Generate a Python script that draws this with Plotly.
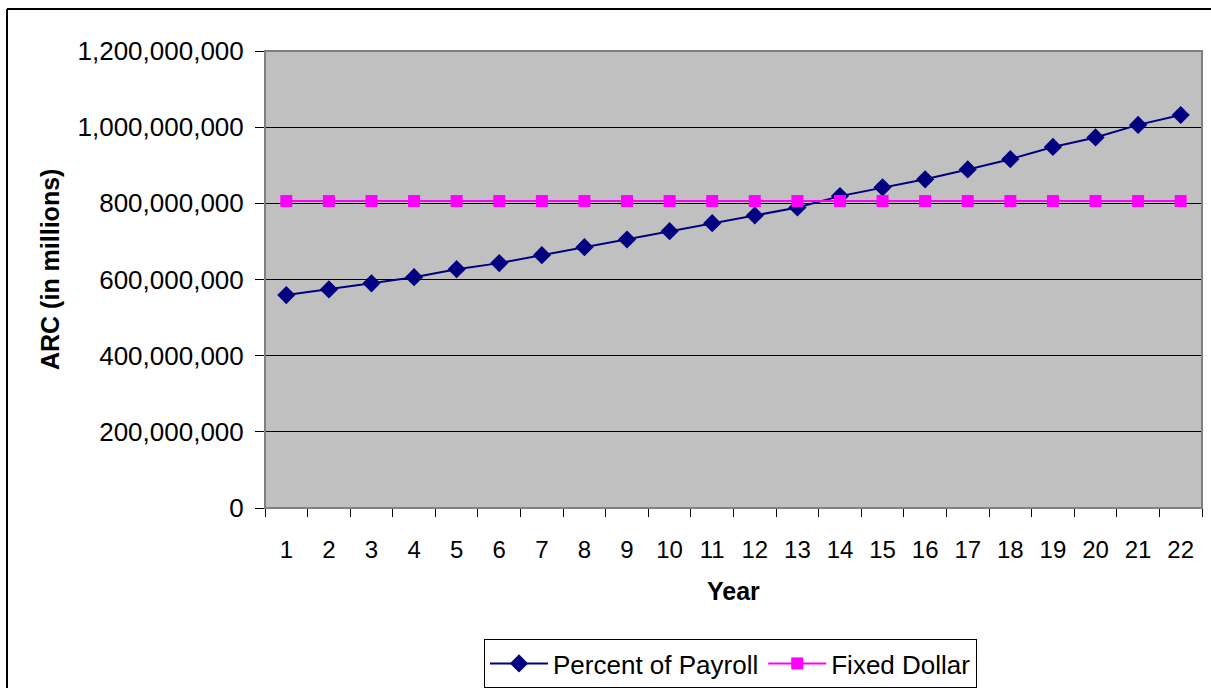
import plotly.graph_objects as go

years = [str(i) for i in range(1, 23)]
percent_of_payroll = [559e6, 574e6, 590e6, 606e6, 627e6, 643e6, 664e6, 685e6, 705e6, 727e6, 748e6,
                      768e6, 789e6, 819e6, 842e6, 863e6, 889e6, 916e6, 948e6, 973e6, 1006e6, 1032e6]
fixed_dollar = [806e6] * 22
y_ticks = [0, 200e6, 400e6, 600e6, 800e6, 1000e6, 1200e6]
y_tick_labels = ["0", "200,000,000", "400,000,000", "600,000,000", "800,000,000",
                 "1,000,000,000", "1,200,000,000"]

W, H = 1211, 688
L, T = 265, 51
pw, ph = 937, 457
R = W - L - pw
B = H - T - ph

def px_x(p):  # screen px -> paper
    return (p - L) / pw

def px_y(p):
    return (T + ph - p) / ph

fig = go.Figure()
fig.add_trace(go.Scatter(
    x=years, y=percent_of_payroll, name="Percent of Payroll", mode="lines+markers",
    line=dict(color="#000080", width=2),
    marker=dict(symbol="diamond", size=14, color="#000080"),
))
fig.add_trace(go.Scatter(
    x=years, y=fixed_dollar, name="Fixed Dollar", mode="lines+markers",
    line=dict(color="#FF00FF", width=2),
    marker=dict(symbol="square", size=12, color="#FF00FF"),
))

fig.update_layout(
    width=W, height=H,
    margin=dict(l=L, r=R, t=T, b=B, autoexpand=False),
    paper_bgcolor="white",
    plot_bgcolor="#C0C0C0",
    font=dict(family="Liberation Sans, Arial", size=24, color="black"),
    showlegend=True,
    legend=dict(
        orientation="h", x=px_x(484), y=px_y(639), xanchor="left", yanchor="top",
        bordercolor="black", borderwidth=1, bgcolor="white",
        font=dict(size=26), tracegroupgap=0, itemwidth=58,
    ),
    shapes=[
        dict(type="line", xref="paper", yref="paper",
             x0=px_x(7), x1=px_x(1260), y0=px_y(9), y1=px_y(9),
             line=dict(color="black", width=2), layer="below"),
        dict(type="line", xref="paper", yref="paper",
             x0=px_x(7), x1=px_x(7), y0=px_y(9), y1=px_y(760),
             line=dict(color="black", width=2), layer="below"),
        dict(type="rect", xref="paper", yref="paper", x0=0, x1=1, y0=0, y1=1,
             line=dict(color="#808080", width=2), fillcolor="rgba(0,0,0,0)"),
    ],
    annotations=[
        dict(text="<b>ARC (in millions)</b>", textangle=-90, xref="paper", yref="paper",
             x=px_x(50), y=px_y(270), xanchor="center", yanchor="middle",
             showarrow=False, font=dict(size=25)),
        dict(text="<b>Year</b>", xref="paper", yref="paper",
             x=px_x(733), y=px_y(591), xanchor="center", yanchor="middle",
             showarrow=False, font=dict(size=25)),
    ],
)

fig.update_xaxes(
    type="category", range=[-0.5, 21.5],
    showgrid=False, zeroline=False,
    showline=True, linecolor="black", linewidth=1,
    ticks="outside", tickson="boundaries", ticklen=8, tickcolor="black",
    ticklabelstandoff=20, tickfont=dict(size=24),
)
fig.update_yaxes(
    range=[0, 1200e6], tickvals=y_ticks, ticktext=y_tick_labels,
    showgrid=True, gridcolor="black", gridwidth=1, zeroline=False,
    showline=True, linecolor="black", linewidth=1,
    ticks="outside", ticklen=9, tickcolor="black",
    ticklabelstandoff=6, tickfont=dict(size=26),
)

fig.write_html(
    "out.html",
    config={"displayModeBar": False},
    post_script="document.body.style.margin='0';document.body.style.overflow='hidden';",
)
